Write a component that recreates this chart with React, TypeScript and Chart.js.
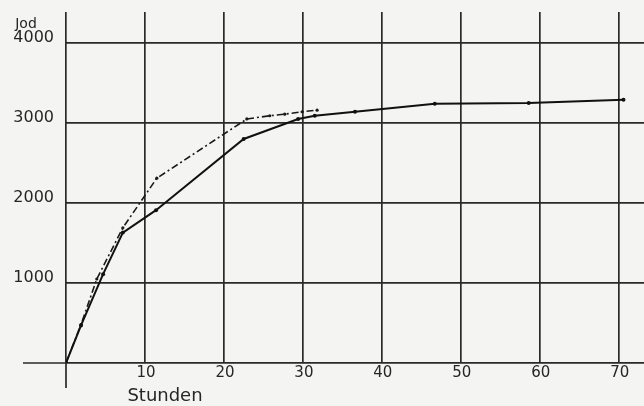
import React, { useEffect, useRef } from "react";
import { Chart, registerables } from "chart.js";

Chart.register(...registerables);

// Solid curve (Stunden -> Jod)
const solidHours = [0, 1.9, 4.7, 7.2, 11.4, 22.5, 29.4, 31.5, 36.6, 46.7, 58.6, 70.6];
const solidJod = [0, 470, 1110, 1630, 1910, 2800, 3050, 3090, 3140, 3240, 3250, 3290];

// Dash-dot curve
const dashedHours = [0, 1.9, 3.9, 7.2, 11.5, 22.9, 25.8, 27.7, 29.9, 31.8];
const dashedJod = [0, 480, 1050, 1690, 2310, 3050, 3090, 3110, 3140, 3160];

const xTickValues = [10, 20, 30, 40, 50, 60, 70];
const yTickValues = [1000, 2000, 3000, 4000];
const xTitle = "Stunden";
const yTitle = "Jod";

const INK = "#262626";
const GRID = "#2a2a2a";
const PAPER = "#f4f4f2";
const FONT = '"DejaVu Sans", sans-serif';

export default function App() {
  const ref = useRef<HTMLCanvasElement>(null);

  useEffect(() => {
    const canvas = ref.current;
    if (!canvas) return;

    const extras = {
      id: "extras",
      beforeDraw(chart: any) {
        const ctx = chart.ctx;
        ctx.save();
        ctx.fillStyle = PAPER;
        ctx.fillRect(0, 0, chart.width, chart.height);
        ctx.restore();
      },
      afterDraw(chart: any) {
        const ctx = chart.ctx;
        const xs = chart.scales.x;
        const ys = chart.scales.y;
        const x0 = xs.getPixelForValue(0);
        const y0 = ys.getPixelForValue(0);
        ctx.save();
        ctx.strokeStyle = GRID;
        ctx.lineWidth = 1.7;
        ctx.beginPath();
        ctx.moveTo(x0, y0);
        ctx.lineTo(x0, y0 + 25);
        ctx.moveTo(x0 - 43, y0);
        ctx.lineTo(x0, y0);
        ctx.stroke();

        ctx.fillStyle = INK;
        ctx.textAlign = "center";
        ctx.textBaseline = "alphabetic";
        ctx.font = `18px ${FONT}`;
        ctx.fillText(xTitle, x0 + 99, y0 + 38);
        ctx.font = `14px ${FONT}`;
        ctx.fillText(yTitle, x0 - 40, ys.getPixelForValue(4000) - 15);
        ctx.restore();
      },
    };

    const noPad = (s: any) => {
      s.paddingTop = 0;
      s.paddingBottom = 0;
      s.paddingLeft = 0;
      s.paddingRight = 0;
    };

    const chart = new Chart(canvas, {
      type: "line",
      data: {
        datasets: [
          {
            label: "solid",
            data: solidHours.map((h, i) => ({ x: h, y: solidJod[i] })),
            borderColor: "#111",
            backgroundColor: "#111",
            borderWidth: 2,
            pointRadius: 2,
            pointBorderWidth: 0,
            tension: 0,
          },
          {
            label: "dashed",
            data: dashedHours.map((h, i) => ({ x: h, y: dashedJod[i] })),
            borderColor: "#1a1a1a",
            backgroundColor: "#1a1a1a",
            borderWidth: 1.6,
            borderDash: [7, 3, 2, 3],
            pointRadius: 1.6,
            pointBorderWidth: 0,
            tension: 0,
          },
        ],
      },
      options: {
        responsive: false,
        animation: false,
        layout: { autoPadding: false, padding: { top: 12, right: 0, left: 0, bottom: 0 } },
        plugins: {
          legend: { display: false },
          tooltip: { enabled: false },
        },
        scales: {
          x: {
            type: "linear",
            min: 0,
            max: 73.2,
            afterBuildTicks: (s: any) => {
              s.ticks = [0, ...xTickValues].map((v) => ({ value: v }));
            },
            afterFit: (s: any) => {
              s.height = 43;
              noPad(s);
            },
            ticks: {
              callback: (v: any) => (v === 0 ? "" : String(v)),
              font: { family: FONT, size: 15 },
              color: INK,
              padding: 1,
              labelOffset: 1,
              maxRotation: 0,
              autoSkip: false,
            },
            grid: { color: GRID, lineWidth: 1.7, drawTicks: false },
            border: { display: false },
          },
          y: {
            type: "linear",
            min: 0,
            max: 4387,
            afterBuildTicks: (s: any) => {
              s.ticks = [0, ...yTickValues].map((v) => ({ value: v }));
            },
            afterFit: (s: any) => {
              s.width = 66;
              noPad(s);
            },
            ticks: {
              callback: (v: any) => (v === 0 ? "" : String(v)),
              font: { family: FONT, size: 16 },
              color: INK,
              padding: 12,
              labelOffset: -5,
              autoSkip: false,
            },
            grid: { color: GRID, lineWidth: 1.7, drawTicks: false },
            border: { display: false },
          },
        },
      },
      plugins: [extras],
    } as any);

    return () => chart.destroy();
  }, []);

  return (
    <div style={{ position: "fixed", left: 0, top: 0, width: 644, height: 406, background: PAPER }}>
      <canvas ref={ref} width={644} height={406} style={{ display: "block" }} />
    </div>
  );
}
